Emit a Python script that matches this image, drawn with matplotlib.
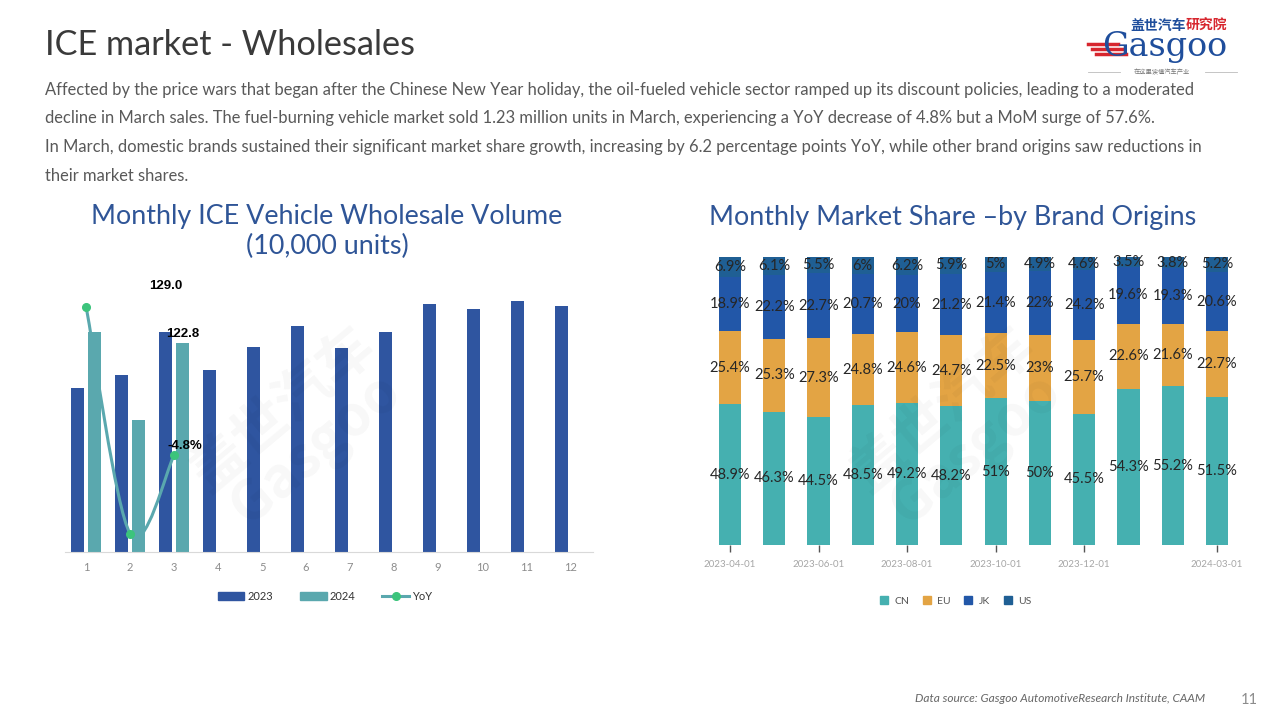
import matplotlib
matplotlib.use("Agg")
import matplotlib.pyplot as plt
from matplotlib.path import Path
from matplotlib.patches import PathPatch
from matplotlib.lines import Line2D
from matplotlib.patches import Patch
import numpy as np

plt.rcParams['font.family'] = ['Lato', 'Noto Sans CJK SC', 'DejaVu Sans']

# ---------------- data ----------------
months = [1, 2, 3, 4, 5, 6, 7, 8, 9, 10, 11, 12]
vol_2023 = [96.2, 103.8, 129.0, 106.8, 120.3, 132.6, 119.7, 129.1, 145.5, 142.6, 147.3, 144.3]
vol_2024 = [128.9, 77.4, 122.8]
yoy_2024 = [34.0, -25.4, -4.8]

share_dates = ['2023-04-01', '2023-05-01', '2023-06-01', '2023-07-01', '2023-08-01', '2023-09-01',
               '2023-10-01', '2023-11-01', '2023-12-01', '2024-01-01', '2024-02-01', '2024-03-01']
share_cn = [48.9, 46.3, 44.5, 48.5, 49.2, 48.2, 51, 50, 45.5, 54.3, 55.2, 51.5]
share_eu = [25.4, 25.3, 27.3, 24.8, 24.6, 24.7, 22.5, 23, 25.7, 22.6, 21.6, 22.7]
share_jk = [18.9, 22.2, 22.7, 20.7, 20, 21.2, 21.4, 22, 24.2, 19.6, 19.3, 20.6]
share_us = [6.9, 6.1, 5.5, 6, 6.2, 5.9, 5, 4.9, 4.6, 3.5, 3.8, 5.2]
shown_ticks = ['2023-04-01', '2023-06-01', '2023-08-01', '2023-10-01', '2023-12-01', '2024-03-01']

W, H = 1280, 720
fig = plt.figure(figsize=(12.8, 7.2), dpi=100)
fig.patch.set_facecolor('white')

def fx(px):
    return px / W

def fy(py):
    return 1 - py / H

# ---------------- header ----------------
fig.text(fx(45), fy(45), 'ICE market - Wholesales', fontsize=24.7, color='#3a3a3a',
         va='center', ha='left')
para = [
    'Affected by the price wars that began after the Chinese New Year holiday, the oil-fueled vehicle sector ramped up its discount policies, leading to a moderated',
    'decline in March sales. The fuel-burning vehicle market sold 1.23 million units in March, experiencing a YoY decrease of 4.8% but a MoM surge of 57.6%.',
    'In March, domestic brands sustained their significant market share growth, increasing by 6.2 percentage points YoY, while other brand origins saw reductions in',
    'their market shares.',
]
for line, y in zip(para, [90, 118, 147, 176]):
    fig.text(fx(45), fy(y), line, fontsize=11.9, color='#595959', va='center', ha='left')

# logo
fig.text(fx(1186), fy(26), '盖世汽车', fontsize=10, color='#1f4e9c', va='center', ha='right',
         family=['Noto Sans CJK SC'], weight='bold')
fig.text(fx(1186), fy(26), '研究院', fontsize=10, color='#d7262e', va='center', ha='left',
         family=['Noto Sans CJK SC'], weight='bold')
fig.text(fx(1165), fy(47), 'Gasgoo', fontsize=24, color='#1f4e9c', va='center', ha='center',
         family=['DejaVu Serif'])
for k in range(3):
    fig.add_artist(Line2D([fx(1088 + 4 * k), fx(1118 + 4 * k)], [fy(44 + 5 * k), fy(44 + 5 * k)],
                          color='#d7262e', lw=2.5))
fig.add_artist(Line2D([fx(1088), fx(1120)], [fy(72), fy(72)], color='#bbbbbb', lw=0.6))
fig.add_artist(Line2D([fx(1205), fx(1237)], [fy(72), fy(72)], color='#bbbbbb', lw=0.6))
fig.text(fx(1162), fy(72), '在这里读懂汽车产业', fontsize=4.5, color='#777777', va='center',
         ha='center', family=['Noto Sans CJK SC'])

# faint watermarks
for (wx, wy) in [(300, 430), (960, 430)]:
    fig.text(fx(wx), fy(wy), '盖世汽车\nGasgoo', fontsize=40, color='#000000', alpha=0.03,
             rotation=40, ha='center', va='center', family=['Noto Sans CJK SC'], weight='bold',
             linespacing=0.9)

# ---------------- left chart ----------------
blue23 = '#2f55a0'
teal24 = '#5aa8ae'
green = '#3cc47c'

axL = fig.add_axes([fx(65), fy(552), fx(593) - fx(65), fy(290) - fy(552)])
x = np.array(months, dtype=float)
off, bw = 0.19, 0.3
axL.bar(x - off, vol_2023, width=bw, color=blue23, zorder=2)
x24 = x[:len(vol_2024)]
axL.bar(x24 + off, vol_2024, width=bw, color=teal24, zorder=2)
axL.set_xlim(0.52, 12.52)
axL.set_ylim(0, 153.7)
axL.set_xticks(months)
axL.set_xticklabels([str(m) for m in months])
axL.tick_params(axis='x', length=0, pad=7, labelsize=8, labelcolor='#8c8c8c')
axL.set_yticks([])
for s in ['top', 'left', 'right']:
    axL.spines[s].set_visible(False)
axL.spines['bottom'].set_color('#d9d9d9')
axL.set_facecolor('none')

# YoY on secondary axis
ax2 = axL.twinx()
ax2.set_ylim(-30.2, 38.4)
ax2.set_yticks([])
for s in ['top', 'left', 'right', 'bottom']:
    ax2.spines[s].set_visible(False)
px = list(x24)
py = list(yoy_2024)
verts = [(px[0], py[0])]
codes = [Path.MOVETO]
n = len(px)
for i in range(n - 1):
    p0 = np.array([px[max(i - 1, 0)], py[max(i - 1, 0)]])
    p1 = np.array([px[i], py[i]])
    p2 = np.array([px[i + 1], py[i + 1]])
    p3 = np.array([px[min(i + 2, n - 1)], py[min(i + 2, n - 1)]])
    c1 = p1 + (p2 - p0) / 6.0
    c2 = p2 - (p3 - p1) / 6.0
    verts += [tuple(c1), tuple(c2), tuple(p2)]
    codes += [Path.CURVE4] * 3
ax2.add_patch(PathPatch(Path(verts, codes), facecolor='none', edgecolor=teal24, lw=2.2, zorder=3))
ax2.plot(px, py, linestyle='none', marker='o', ms=5.5, color=green, zorder=4)

# data labels
axL.annotate(f'{vol_2023[2]:.1f}', xy=(3 - off, vol_2023[2]), xytext=(0, 33), textcoords='offset points',
             ha='center', va='center', fontsize=9.5, weight='bold', color='black',
             family=['Liberation Sans'])
axL.annotate(f'{vol_2024[2]:.1f}', xy=(3 + off, vol_2024[2]), xytext=(0, 6.5), textcoords='offset points',
             ha='center', va='center', fontsize=9.5, weight='bold', color='black',
             family=['Liberation Sans'])
ax2.annotate(f'{yoy_2024[2]:.1f}%', xy=(3, yoy_2024[2]), xytext=(7.5, 6.5), textcoords='offset points',
             ha='center', va='center', fontsize=9.5, weight='bold', color='black',
             family=['Liberation Sans'], zorder=10)

fig.text(fx(327), fy(216), 'Monthly ICE Vehicle Wholesale Volume', fontsize=19.4, color='#2f5597',
         ha='center', va='center')
fig.text(fx(327), fy(246), '(10,000 units)', fontsize=19.4, color='#2f5597', ha='center', va='center')

handles = [Patch(color=blue23), Patch(color=teal24),
           Line2D([0], [0], color=teal24, lw=2.2, marker='o', ms=5.5, markerfacecolor=green,
                  markeredgecolor=green)]
fig.legend(handles, ['2023', '2024', 'YoY'], loc='center', bbox_to_anchor=(fx(325), fy(596)),
           ncol=3, frameon=False, fontsize=8, handlelength=2.4, handleheight=0.7,
           columnspacing=2.4, handletextpad=0.3, labelcolor='#333333')

# ---------------- right chart ----------------
c_cn = '#45b0b0'
c_eu = '#e3a444'
c_jk = '#2257a8'
c_us = '#1f5f94'

axR = fig.add_axes([fx(703.4), fy(545), fx(1243.6) - fx(703.4), fy(257) - fy(545)])
xi = np.arange(len(share_dates))
cn = np.array(share_cn); eu = np.array(share_eu); jk = np.array(share_jk); us = np.array(share_us)
bwR = 0.5
axR.bar(xi, cn, width=bwR, color=c_cn, zorder=2)
axR.bar(xi, eu, width=bwR, bottom=cn, color=c_eu, zorder=2)
axR.bar(xi, jk, width=bwR, bottom=cn + eu, color=c_jk, zorder=2)
axR.bar(xi, us, width=bwR, bottom=cn + eu + jk, color=c_us, zorder=2)

def fmt(v):
    return (f'{v:g}') + '%'

for i in xi:
    bottoms = [0, cn[i], cn[i] + eu[i], cn[i] + eu[i] + jk[i]]
    vals = [cn[i], eu[i], jk[i], us[i]]
    for b, v in zip(bottoms, vals):
        axR.text(i, b + v / 2, fmt(v), ha='center', va='center', fontsize=10.5, color='#262626', zorder=5)

axR.set_xlim(-0.6, 11.6)
axR.set_ylim(0, 100)
tick_idx = [share_dates.index(d) for d in shown_ticks]
axR.set_xticks(tick_idx)
axR.set_xticklabels(shown_ticks)
axR.tick_params(axis='x', length=5, width=1, color='#555555', pad=6, labelsize=7, labelcolor='#a6a6a6')
axR.set_yticks([])
for s in ['top', 'left', 'right', 'bottom']:
    axR.spines[s].set_visible(False)
axR.set_facecolor('none')

fig.text(fx(953), fy(217), 'Monthly Market Share \u2013by Brand Origins', fontsize=19.4, color='#2f5597',
         ha='center', va='center')

handlesR = [Line2D([0], [0], linestyle='none', marker='s', ms=5.5, color=c)
            for c in [c_cn, c_eu, c_jk, c_us]]
fig.legend(handlesR, ['CN', 'EU', 'JK', 'US'], loc='center', bbox_to_anchor=(fx(955), fy(601)),
           ncol=4, frameon=False, fontsize=7.5, handlelength=1.0, columnspacing=1.2,
           handletextpad=0.5, labelcolor='#555555')

# ---------------- footer ----------------
fig.text(fx(1205), fy(698), 'Data source: Gasgoo AutomotiveResearch Institute, CAAM', fontsize=8.6,
         color='#666666', style='italic', ha='right', va='center')
fig.text(fx(1249), fy(700), '11', fontsize=10.5, color='#8c8c8c', ha='center', va='center')

fig.savefig('out.png', dpi=100, facecolor='white')
